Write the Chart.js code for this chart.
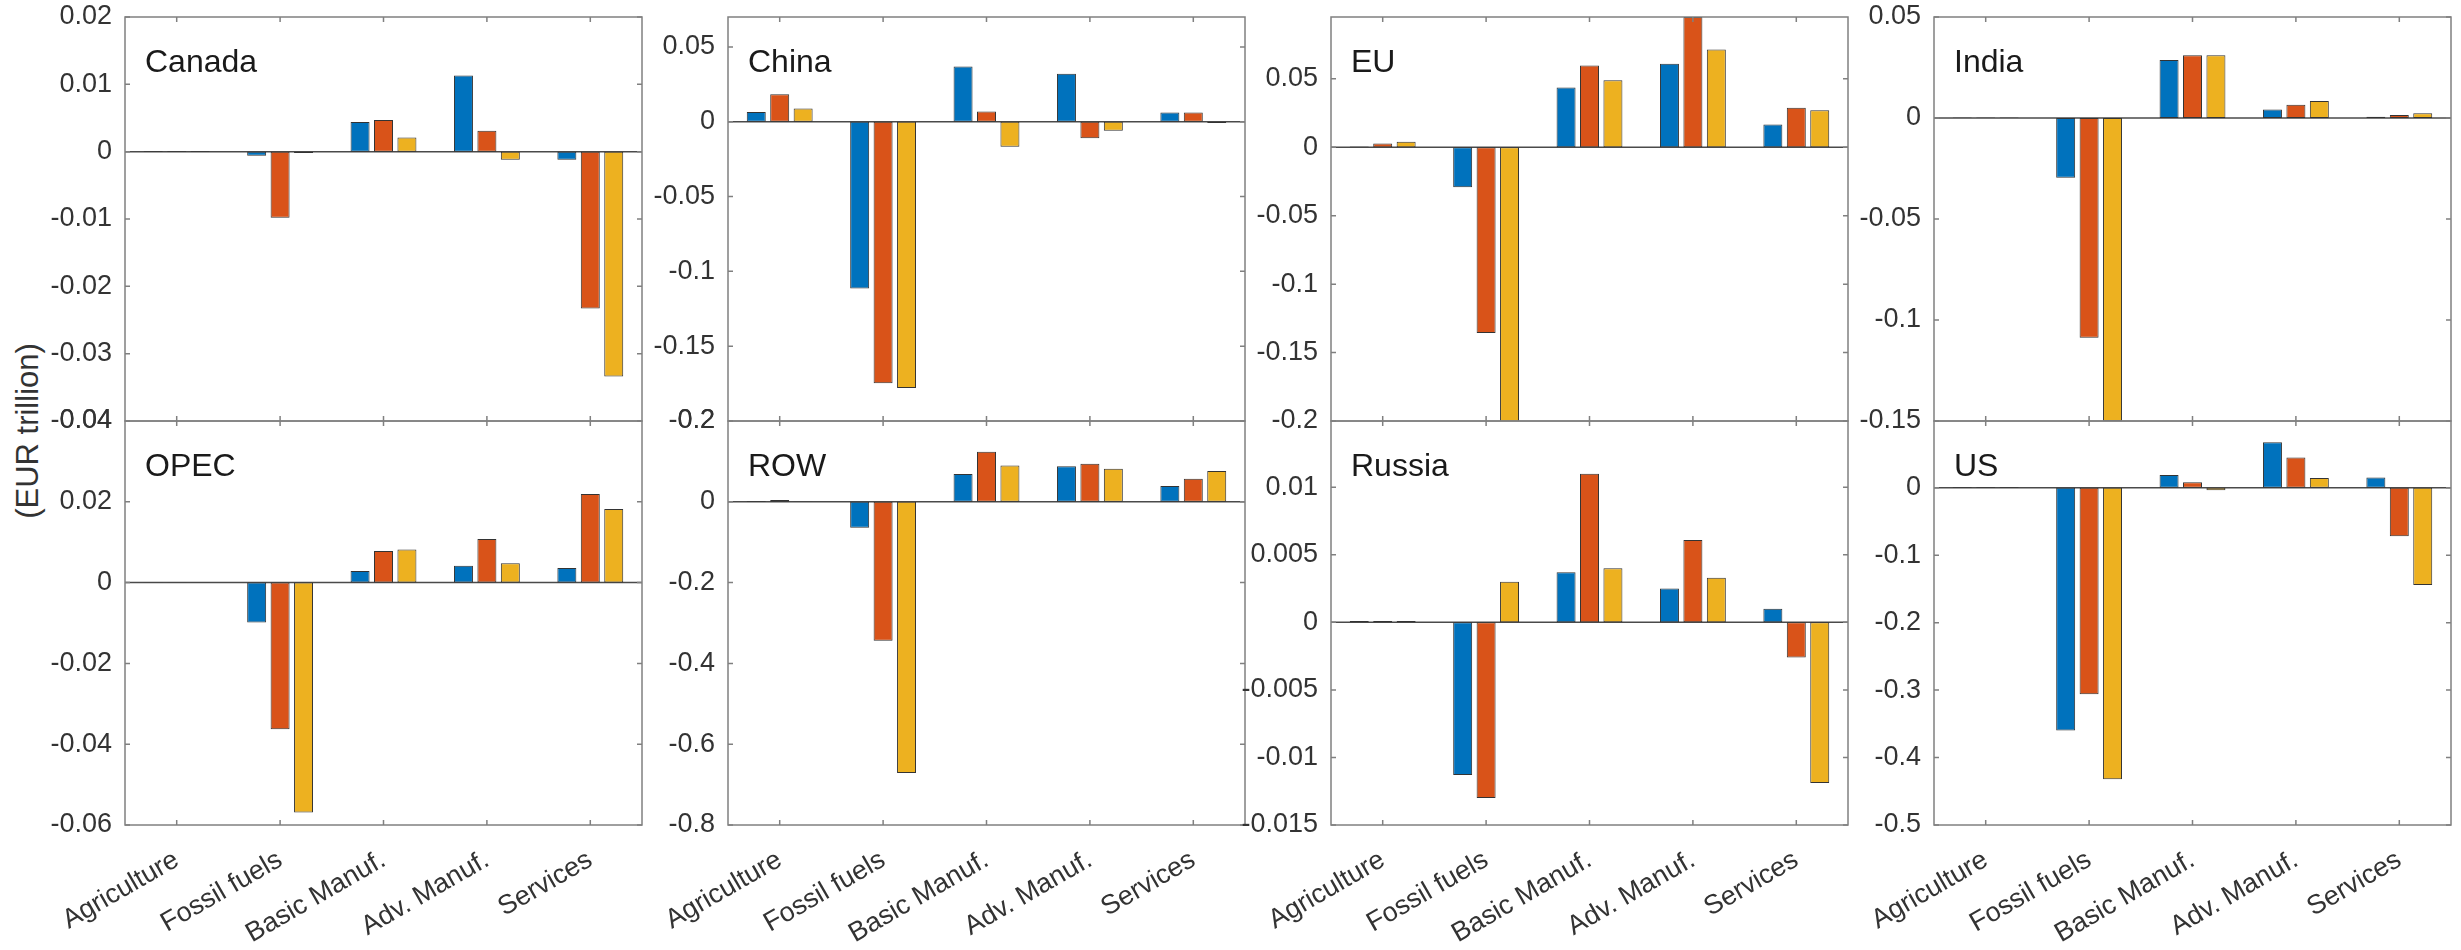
<!DOCTYPE html>
<html><head><meta charset="utf-8">
<script src="https://cdn.jsdelivr.net/npm/chart.js@4.4.0/dist/chart.umd.min.js"></script>
<style>
html,body{margin:0;padding:0;background:#fff;width:2461px;height:950px;overflow:hidden;}
.panel{position:absolute;}
#ylab{position:absolute;left:28px;top:431px;font-family:'Liberation Sans',Arial,sans-serif;font-size:31px;color:#333;transform:translate(-50%,-50%) rotate(-90deg);white-space:nowrap;}
</style></head><body>
<div id="ylab">(EUR trillion)</div>
<script>
// ---- data ----
const categories = ['Agriculture', 'Fossil fuels', 'Basic Manuf.', 'Adv. Manuf.', 'Services'];
const seriesNames = ['Scenario 1', 'Scenario 2', 'Scenario 3'];
const seriesColors = ['#0072BD', '#D95319', '#EDB120'];

// values per region: [series1, series2, series3], each over categories
const canada = [[0.0001, -0.0006, 0.0044, 0.0113, -0.0012],
                [0.0001, -0.0098, 0.0047, 0.0031, -0.0233],
                [0.0001, -0.0002, 0.0021, -0.0012, -0.0334]];
const china  = [[0.0065, -0.1114, 0.0370, 0.0321, 0.0061],
                [0.0183, -0.1748, 0.0069, -0.0110, 0.0061],
                [0.0089, -0.1780, -0.0167, -0.0061, -0.0008]];
const eu     = [[0.0005, -0.0292, 0.0436, 0.0611, 0.0166],
                [0.0027, -0.1357, 0.0597, 0.0952, 0.0288],
                [0.0040, -0.2100, 0.0490, 0.0714, 0.0270]];
const india  = [[0.0003, -0.0296, 0.0287, 0.0042, 0.0006],
                [0.0003, -0.1088, 0.0311, 0.0066, 0.0015],
                [0.0003, -0.1500, 0.0311, 0.0084, 0.0024]];
const opec   = [[0.0001, -0.0099, 0.0029, 0.0042, 0.0036],
                [0.0001, -0.0363, 0.0078, 0.0108, 0.0219],
                [0.0001, -0.0569, 0.0082, 0.0048, 0.0182]];
const row    = [[0.0020, -0.0640, 0.0688, 0.0880, 0.0390],
                [0.0045, -0.3440, 0.1240, 0.0940, 0.0570],
                [0.0010, -0.6710, 0.0897, 0.0820, 0.0760]];
const russia = [[0.0001, -0.0113, 0.0037, 0.0025, 0.0010],
                [0.0001, -0.0130, 0.0110, 0.0061, -0.0026],
                [0.0001, 0.0030, 0.0040, 0.0033, -0.0119]];
const us     = [[0.0010, -0.3600, 0.0189, 0.0676, 0.0153],
                [0.0010, -0.3060, 0.0081, 0.0450, -0.0720],
                [0.0010, -0.4320, -0.0036, 0.0144, -0.1440]];

// axis limits and tick labels per region
const canadaRange = [-0.04, 0.02];   const canadaTicks = [-0.04, -0.03, -0.02, -0.01, 0, 0.01, 0.02];
const chinaRange  = [-0.2, 0.07];    const chinaTicks  = [-0.2, -0.15, -0.1, -0.05, 0, 0.05];
const euRange     = [-0.2, 0.0952];  const euTicks     = [-0.2, -0.15, -0.1, -0.05, 0, 0.05];
const indiaRange  = [-0.15, 0.05];   const indiaTicks  = [-0.15, -0.1, -0.05, 0, 0.05];
const opecRange   = [-0.06, 0.04];   const opecTicks   = [-0.06, -0.04, -0.02, 0, 0.02, 0.04];
const rowRange    = [-0.8, 0.2];     const rowTicks    = [-0.8, -0.6, -0.4, -0.2, 0, 0.2];
const russiaRange = [-0.015, 0.0149]; const russiaTicks = [-0.015, -0.01, -0.005, 0, 0.005, 0.01];
const usRange     = [-0.5, 0.099];   const usTicks     = [-0.5, -0.4, -0.3, -0.2, -0.1, 0];

const panels = [
  ['Canada', canada, canadaRange, canadaTicks],
  ['China', china, chinaRange, chinaTicks],
  ['EU', eu, euRange, euTicks],
  ['India', india, indiaRange, indiaTicks],
  ['OPEC', opec, opecRange, opecTicks],
  ['ROW', row, rowRange, rowTicks],
  ['Russia', russia, russiaRange, russiaTicks],
  ['US', us, usRange, usTicks]
];

// ---- layout ----
const FONT = "'Liberation Sans', Arial, Helvetica, sans-serif";
const frameLefts = [125, 728, 1331, 1934];
const frameTops = [17, 421];
const frameW = 517, frameH = 404;
const yAxisW = 110, padTop = 34, padRight = 8, xAxisH = 122;

const framePlugin = {
  id: 'matlabFrame',
  beforeDatasetsDraw(chart) {
    const {ctx, chartArea: a, scales: {y}} = chart;
    const y0 = y.getPixelForValue(0);
    ctx.save();
    ctx.strokeStyle = '#4a4a4a';
    ctx.lineWidth = 1.5;
    ctx.beginPath(); ctx.moveTo(a.left, y0); ctx.lineTo(a.right, y0); ctx.stroke();
    ctx.restore();
  },
  afterDatasetsDraw(chart, args, opts) {
    const {ctx, chartArea: a, scales: {x, y}} = chart;
    ctx.save();
    ctx.strokeStyle = '#808080';
    ctx.lineWidth = 1.5;
    ctx.strokeRect(a.left, a.top, a.right - a.left, a.bottom - a.top);
    ctx.beginPath();
    y.ticks.forEach(t => {
      const py = y.getPixelForValue(t.value);
      ctx.moveTo(a.left, py); ctx.lineTo(a.left + 5, py);
      ctx.moveTo(a.right, py); ctx.lineTo(a.right - 5, py);
    });
    for (let i = 0; i < x.ticks.length; i++) {
      const px = x.getPixelForTick(i);
      ctx.moveTo(px, a.bottom); ctx.lineTo(px, a.bottom - 5);
      ctx.moveTo(px, a.top); ctx.lineTo(px, a.top + 5);
    }
    ctx.stroke();
    ctx.fillStyle = '#1a1a1a';
    ctx.font = '32px ' + FONT;
    ctx.textAlign = 'left';
    ctx.textBaseline = 'alphabetic';
    ctx.fillText(opts.title, a.left + 20, a.top + 55);
    ctx.restore();
  }
};

panels.forEach((p, idx) => {
  const [name, vals, range, ticks] = p;
  const col = idx % 4, rowIdx = Math.floor(idx / 4);
  const isTop = rowIdx === 0;
  const w = yAxisW + frameW + padRight;
  const h = padTop + frameH + (isTop ? padTop : xAxisH);
  const div = document.createElement('div');
  div.className = 'panel';
  div.style.left = (frameLefts[col] - yAxisW) + 'px';
  div.style.top = (frameTops[rowIdx] - padTop) + 'px';
  const cv = document.createElement('canvas');
  cv.width = w; cv.height = h;
  cv.style.width = w + 'px'; cv.style.height = h + 'px';
  div.appendChild(cv);
  document.body.appendChild(div);

  new Chart(cv, {
    type: 'bar',
    data: {
      labels: categories,
      datasets: vals.map((v, s) => ({
        label: seriesNames[s],
        data: v,
        backgroundColor: seriesColors[s],
        borderColor: '#333333',
        borderWidth: 1,
        borderSkipped: false,
        barPercentage: 0.81,
        categoryPercentage: 0.68
      }))
    },
    options: {
      responsive: false,
      animation: false,
      devicePixelRatio: 1,
      layout: {padding: {top: padTop, right: padRight, bottom: isTop ? padTop : 0, left: 0}},
      plugins: {legend: {display: false}, tooltip: {enabled: false}, matlabFrame: {title: name}},
      scales: {
        x: {
          type: 'category',
          offset: true,
          grid: {display: false, drawTicks: false},
          border: {display: false},
          ticks: {display: !isTop, maxRotation: 30, minRotation: 30, autoSkip: false,
                  font: {family: FONT, size: 27}, color: '#333', padding: 19},
          afterFit: s => { s.height = isTop ? 0 : xAxisH; }
        },
        y: {
          min: range[0], max: range[1],
          grid: {display: false, drawTicks: false},
          border: {display: false},
          afterBuildTicks: s => { s.ticks = ticks.map(v => ({value: v})); },
          ticks: {font: {family: FONT, size: 27}, color: '#333', padding: 13,
                  callback: v => String(v)},
          afterFit: s => { s.width = yAxisW; }
        }
      }
    },
    plugins: [framePlugin]
  });
});
</script>
</body></html>
